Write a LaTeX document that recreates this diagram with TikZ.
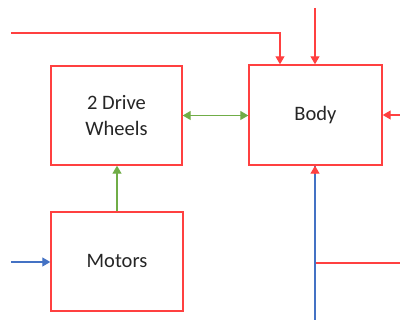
\documentclass[tikz,border=0pt]{standalone}
\usepackage{fontspec}
\setmainfont{Carlito}
\usetikzlibrary{arrows.meta}
\definecolor{boxred}{RGB}{255,64,64}
\definecolor{lgreen}{RGB}{112,173,71}
\definecolor{lblue}{RGB}{68,114,196}
\begin{document}
\begin{tikzpicture}[x=1pt,y=1pt,
  blk/.style={draw=boxred,line width=1.4pt,fill=white,minimum width=#1,minimum height=99pt,inner sep=0pt,align=center,font=\fontsize{20.5}{26}\selectfont,text=black!85},
  tip/.style={-{Triangle[length=8pt,width=9pt]}},
  redln/.style={draw=boxred,line width=1.2pt},
  grnln/.style={draw=lgreen,line width=1.2pt},
  bluln/.style={draw=lblue,line width=1.2pt}]
\useasboundingbox (0,0) rectangle (400,320);
\node[blk=131pt] (wheels) at (116.5,204.5) {2 Drive\\Wheels};
\node[blk=133pt,minimum height=100pt] (body) at (315.5,205) {Body};
\node[blk=132pt] (motors) at (117,58.5) {Motors};
% coordinates
\coordinate (tl) at (11,287);
\coordinate (tt) at (315,312);
\coordinate (rr) at (400,205);
\coordinate (ml) at (11,58);
\coordinate (bb) at (315,0);
\coordinate (rb) at (400,57);
\coordinate (bs) at (315,146);
% connectors
\draw[redln,tip] (tl) -| ([xshift=-35.5pt]body.north);
\draw[redln,tip] (tt) -- (tt |- body.north);
\draw[redln,tip] (rr) -- (body.east);
\draw[grnln,{Triangle[length=8pt,width=9pt]}-{Triangle[length=8pt,width=9pt]}] (wheels.east) -- (wheels.east -| body.west);
\draw[grnln,tip] (motors.north) -- (motors.north |- wheels.south);
\draw[bluln,tip] (ml) -- (ml -| motors.west);
\draw[redln] (rb) -- (rb -| bb);
\draw[bluln] (bb) -- (bb |- body.south);
\draw[redln,tip] (bs) -- (bs |- body.south);
\end{tikzpicture}
\end{document}
